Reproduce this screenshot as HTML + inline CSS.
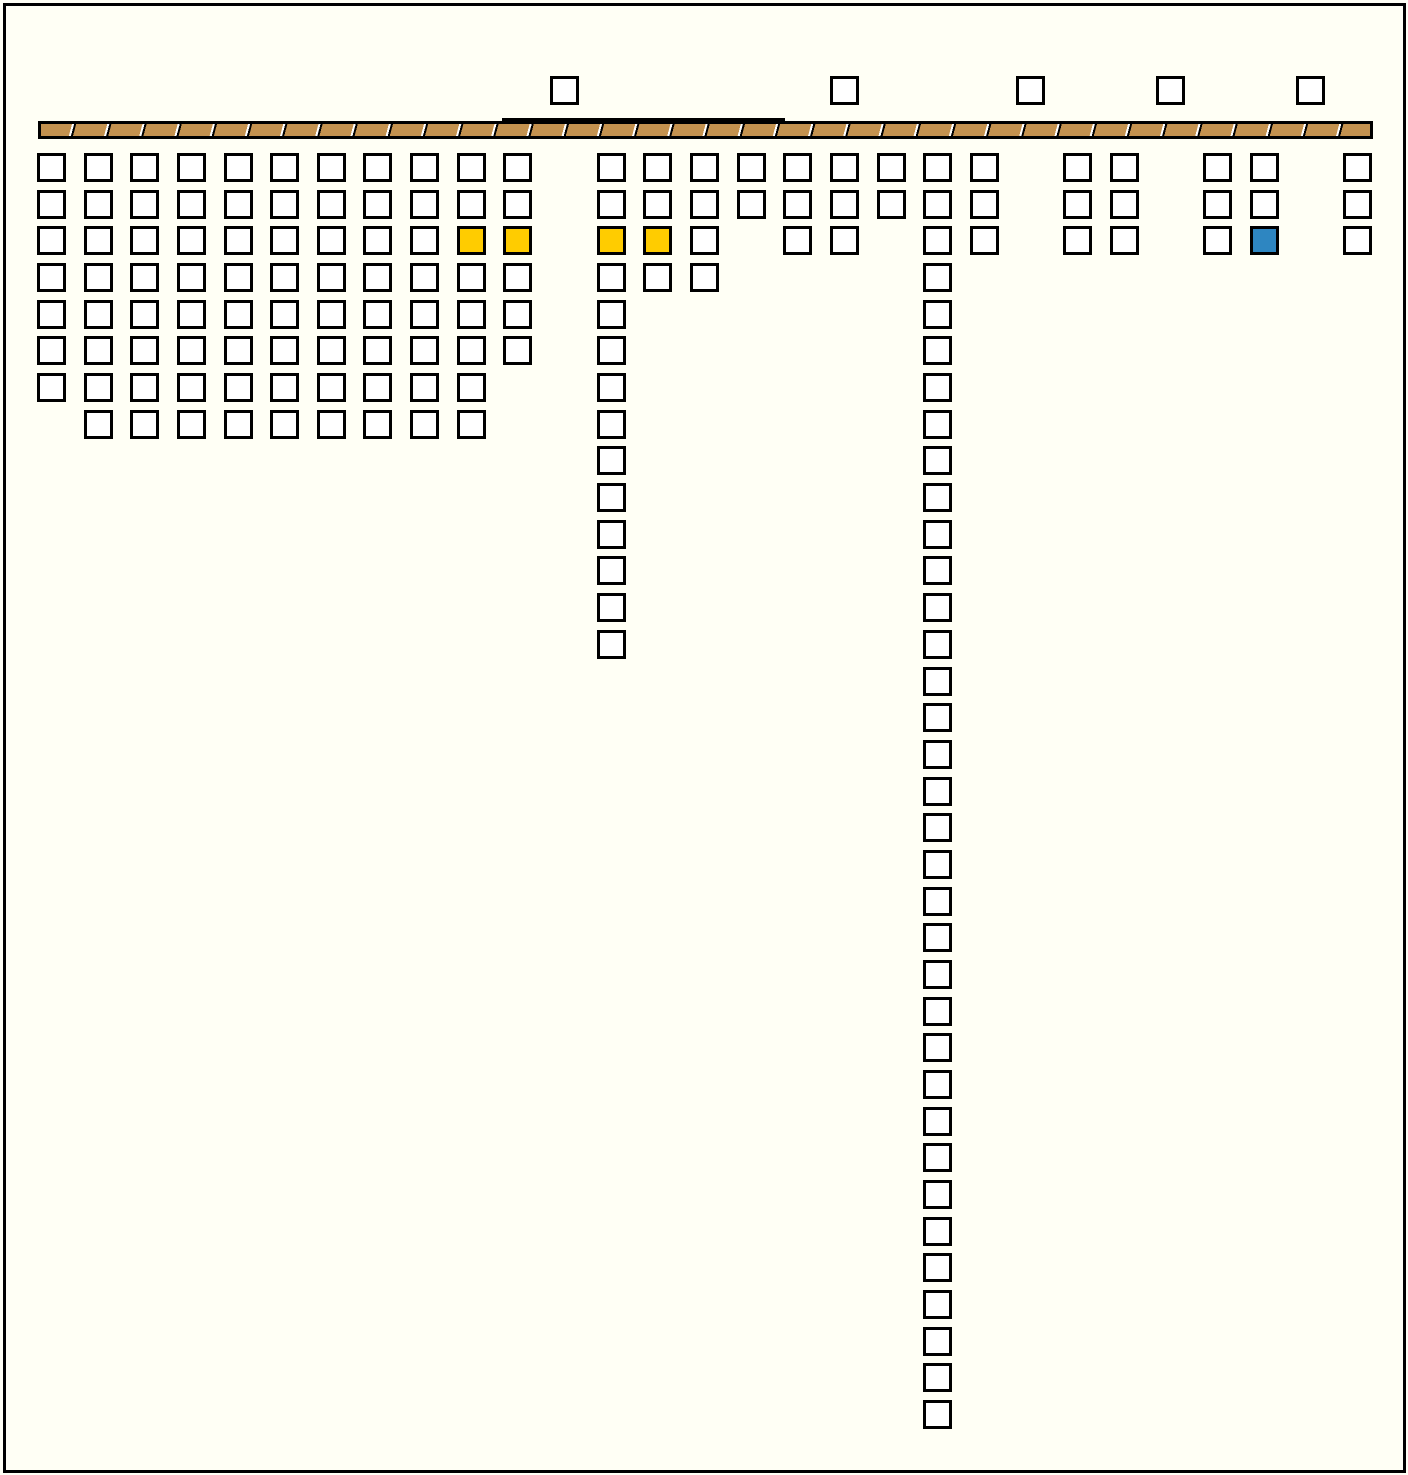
<!DOCTYPE html>
<html><head><meta charset="utf-8"><style>
html,body{margin:0;padding:0;background:#fffff5;}
#c{position:relative;width:1408px;height:1475px;overflow:hidden;background:#fffff5;}
.f{position:absolute;left:3px;top:3px;width:1397px;height:1464px;border:3px solid #000;}
.b{position:absolute;width:23px;height:23px;border:3px solid #000;background:#fff;box-sizing:content-box;}
.y{background:#ffcc00;}
.bl{background:#2e86c1;}
.bar{position:absolute;left:38px;top:121px;width:1329px;height:12px;border:3px solid #000;background:#c4924f;
background-image:repeating-linear-gradient(105deg,transparent 0 30px,#fff 30px 32px,#000 32px 34px,transparent 34px 34px);}
.bar2{position:absolute;left:502px;top:118px;width:283px;height:6px;background:#000;}
</style></head><body><div id="c"><div class="f"></div>
<div class="bar"></div><div class="bar2"></div>
</div>
<script>
var c=document.getElementById('c');
function box(cx,cy,cls){var d=document.createElement('div');d.className='b'+(cls?' '+cls:'');d.style.left=(cx-14)+'px';d.style.top=(cy-14)+'px';c.appendChild(d);}
var X=function(i){return Math.round(51+i*46.64);};
var Y=function(r){return Math.round(167+r*36.68);};
var cols={0:7,1:8,2:8,3:8,4:8,5:8,6:8,7:8,8:8,9:8,10:6,12:14,13:4,14:4,15:2,16:3,17:3,18:2,19:35,20:3,22:3,23:3,25:3,26:3,28:3};
var special={'9_2':'y','10_2':'y','12_2':'y','13_2':'y','26_2':'bl'};
for(var k in cols){var i=+k;for(var r=0;r<cols[k];r++){box(X(i),Y(r),special[i+'_'+r]);}}
[564,844,1030,1170,1310].forEach(function(x){box(x,90);});
</script>
</body></html>
